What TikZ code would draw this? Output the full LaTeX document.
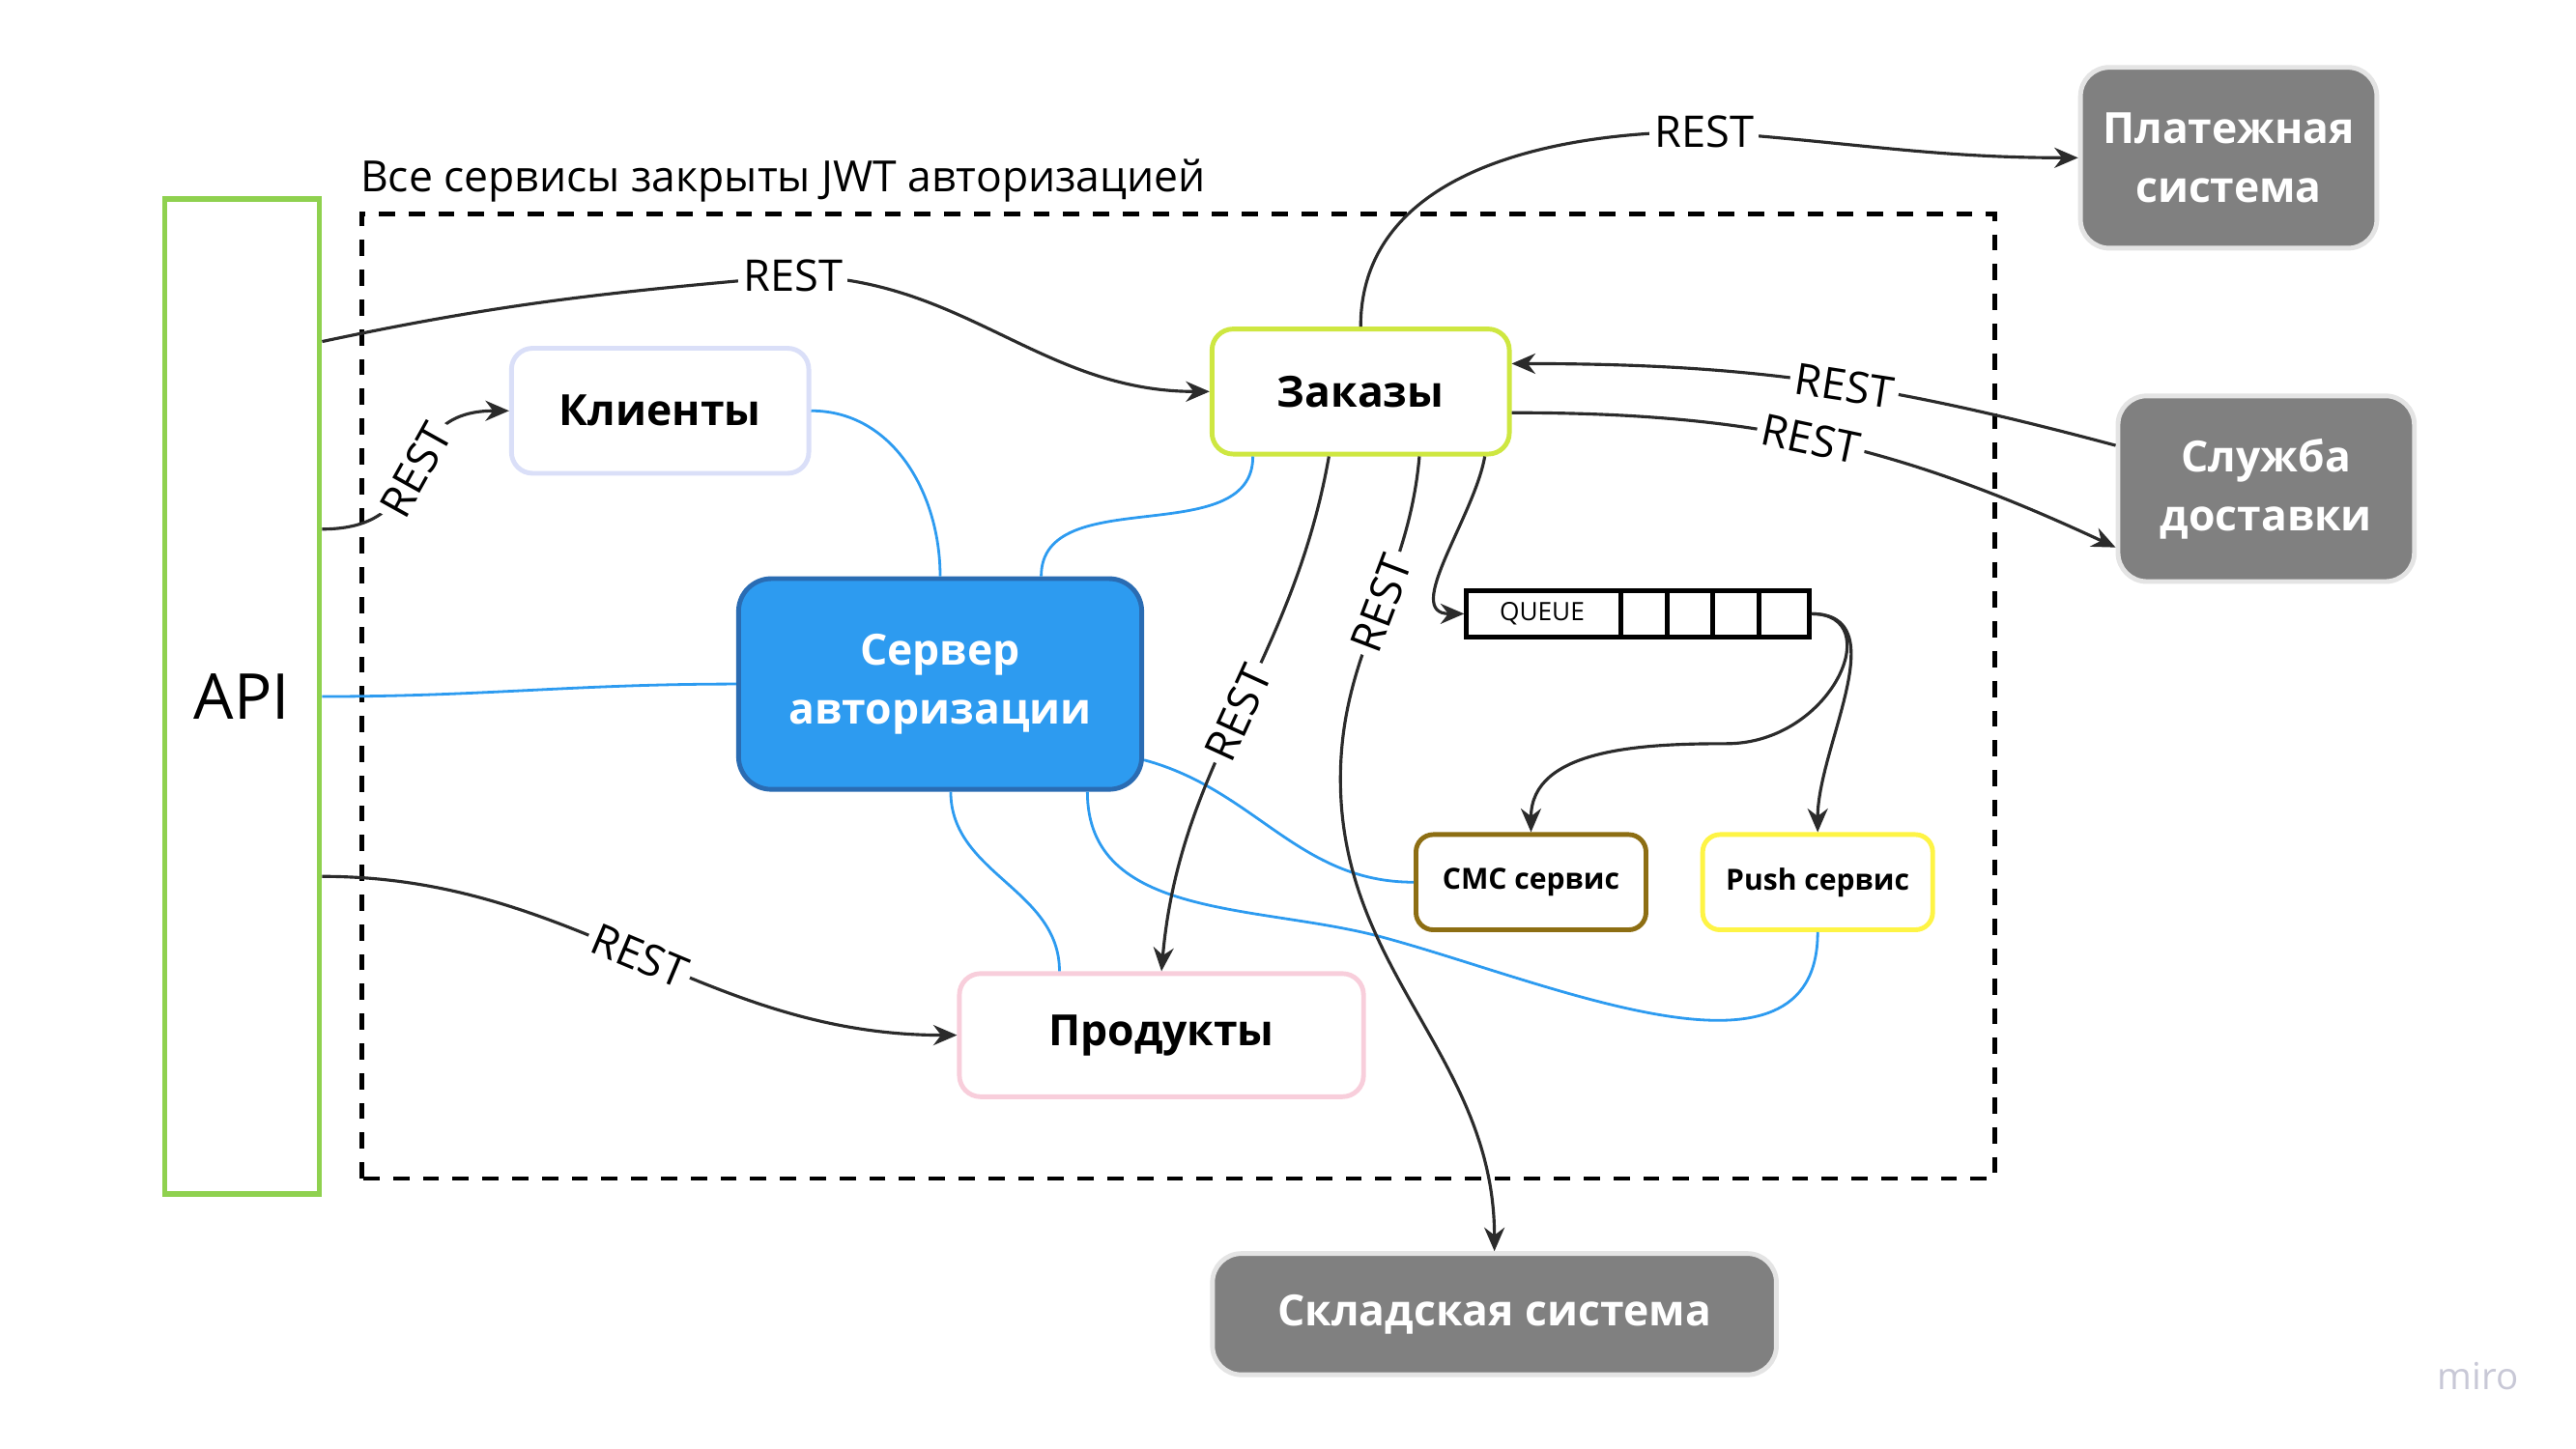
\documentclass[tikz,border=0pt]{standalone}
\usepackage{fontspec}
\setmainfont{Open Sans}
\usetikzlibrary{positioning,arrows.meta}
\definecolor{apigreen}{HTML}{8FD14F}
\definecolor{klrim}{HTML}{DADFF8}
\definecolor{zkrim}{HTML}{CEE741}
\definecolor{srvblue}{HTML}{2D9BF0}
\definecolor{srvrim}{HTML}{2A6CB3}
\definecolor{prrim}{HTML}{F8CEDB}
\definecolor{smcrim}{HTML}{8D6E13}
\definecolor{pushrim}{HTML}{FEF445}
\definecolor{extgrey}{HTML}{808080}
\definecolor{extrim}{HTML}{E4E4E4}
\definecolor{linegrey}{HTML}{2B2B2B}
\definecolor{mirogrey}{HTML}{C8C8D6}
\begin{document}
\begin{tikzpicture}[
    box/.style = {draw, rounded corners=0.22cm, line width=1.4pt, fill=white, align=center, font=\fontsize{12.7}{17.5}\selectfont\bfseries},
    ext/.style = {box, draw=extrim, fill=extgrey, text=white, rounded corners=0.3cm},
    svc/.style = {box, rounded corners=0.18cm, font=\fontsize{8.6}{10}\selectfont\bfseries},
    lbl/.style = {fill=white, inner sep=1.5pt, font=\fontsize{12.9}{14}\selectfont},
    rest/.style = {draw=linegrey, line width=0.9pt, -{Stealth[length=7pt,width=6pt]}},
    auth/.style = {draw=srvblue, line width=0.8pt}]
    \useasboundingbox (0,-0.06) rectangle (26.77,15);
    \draw[dash pattern=on 4.8pt off 4pt, line width=1.4pt] (3.76,2.75) rectangle (20.73,12.78);
    \node[anchor=west, inner sep=0, font=\fontsize{12.7}{15}\selectfont] (ttl) at (3.74,13.12) {Все сервисы закрыты JWT авторизацией};
    \node[draw=apigreen, line width=1.6pt, minimum width=1.61cm, minimum height=10.34cm, font=\fontsize{18.7}{22}\selectfont] (api) at (2.515,7.76) {API};
    \node[box, draw=klrim, minimum width=3.09cm, minimum height=1.30cm] (kl) at (6.86,10.73) {Клиенты};
    \node[box, draw=zkrim, minimum width=3.09cm, minimum height=1.30cm] (zk) at (14.14,10.93) {Заказы};
    \node[box, draw=srvrim, fill=srvblue, text=white, rounded corners=0.34cm, minimum width=4.19cm, minimum height=2.19cm] (srv) at (9.77,7.89) {Сервер\\авторизации};
    \node[box, draw=prrim, minimum width=4.20cm, minimum height=1.28cm] (prod) at (12.07,4.24) {Продукты};
    \node[draw, line width=1.4pt, minimum width=3.56cm, minimum height=0.48cm] (que) at (17.02,8.62) {};
    \node[font=\fontsize{7.5}{9}\selectfont] (qtxt) at ([xshift=0.81cm]que.west) {QUEUE};
    \node[svc, draw=smcrim, minimum width=2.39cm, minimum height=0.99cm] (smc) at (15.91,5.83) {СМС сервис};
    \node[svc, draw=pushrim, minimum width=2.39cm, minimum height=0.99cm, right=0.54cm of smc] (push) {Push сервис};
    \node[ext, minimum width=3.08cm, minimum height=1.88cm] (pl) at (23.16,13.36) {Платежная\\система};
    \node[ext, minimum width=3.08cm, minimum height=1.93cm] (dst) at (23.55,9.92) {Служба\\доставки};
    \node[ext, minimum width=5.86cm, minimum height=1.26cm] (sk) at (15.53,1.34) {Складская система};
    \node[text=mirogrey, font=\fontsize{11}{13}\selectfont] (miro) at (25.75,0.70) {miro};
    \coordinate (w1) at (8.24,12.13);
    \coordinate (w2) at (17.71,13.63);
    \coordinate (w3) at (13.93,6.90);
    \coordinate (w4) at (14.36,5.26);
    \coordinate (w5) at (17.94,7.27);
      %
    \foreach \x in {1.63,2.11,2.58,3.06}
      \draw[line width=1.4pt] ([xshift=\x cm]que.north west) -- ([xshift=\x cm]que.south west);
    \draw[auth] (api.east) to[out=0,in=180] (srv.west);
    \draw[auth] (kl.east) to[out=0,in=90] (srv.north);
    \draw[auth] ([xshift=-1.12cm]zk.south) to[out=-90,in=90] ([xshift=1.05cm]srv.north);
    \draw[auth] ([yshift=-0.79cm]srv.east) to[out=-15,in=180] (smc.west);
    \draw[auth] ([xshift=0.11cm]srv.south) to[out=-90,in=90] ([xshift=-1.06cm]prod.north);
    \draw[auth] ([xshift=1.53cm]srv.south) to[out=-90,in=165] (w4) to[out=-15,in=-90] (push.south);
    \draw[rest] ([yshift=3.69cm]api.east) to[out=12,in=185] (w1) node[lbl]{REST} to[out=0,in=180] (zk.west);
    \draw[rest] ([yshift=1.74cm]api.east) to[out=0,in=180,looseness=1.4] node[lbl,sloped]{REST} (kl.west);
    \draw[rest] ([yshift=-1.87cm]api.east) to[out=0,in=180] node[lbl,sloped]{REST} (prod.west);
    \draw[rest] (zk.north) to[out=90,in=180] (w2) node[lbl]{REST} to[out=-4,in=180] (pl.west);
    \draw[rest] ([yshift=0.45cm]dst.west) to[out=165,in=0] node[lbl,sloped,pos=0.45]{REST} ([yshift=0.29cm]zk.east);
    \draw[rest] ([yshift=-0.22cm]zk.east) to[out=0,in=155] node[lbl,sloped,pos=0.48]{REST} ([yshift=-0.61cm]dst.west);
    \draw[rest] ([xshift=-0.33cm]zk.south) to[out=-100,in=85] node[lbl,sloped]{REST} (prod.north);
    \draw[rest] ([xshift=0.61cm]zk.south) to[out=-95,in=90] node[lbl,sloped,pos=0.45]{REST} (w3) to[out=-90,in=90] (sk.north);
    \draw[rest] ([xshift=1.29cm]zk.south) to[out=-100,in=180] (que.west);
    \draw[rest] (que.east) .. controls +(0.8,0) and +(1.1,0) .. (w5) .. controls +(-0.87,0) and +(0,0.87) .. (smc.north);
    \draw[rest] (que.east) to[out=0,in=90] (push.north);
  \end{tikzpicture}
\end{document}
